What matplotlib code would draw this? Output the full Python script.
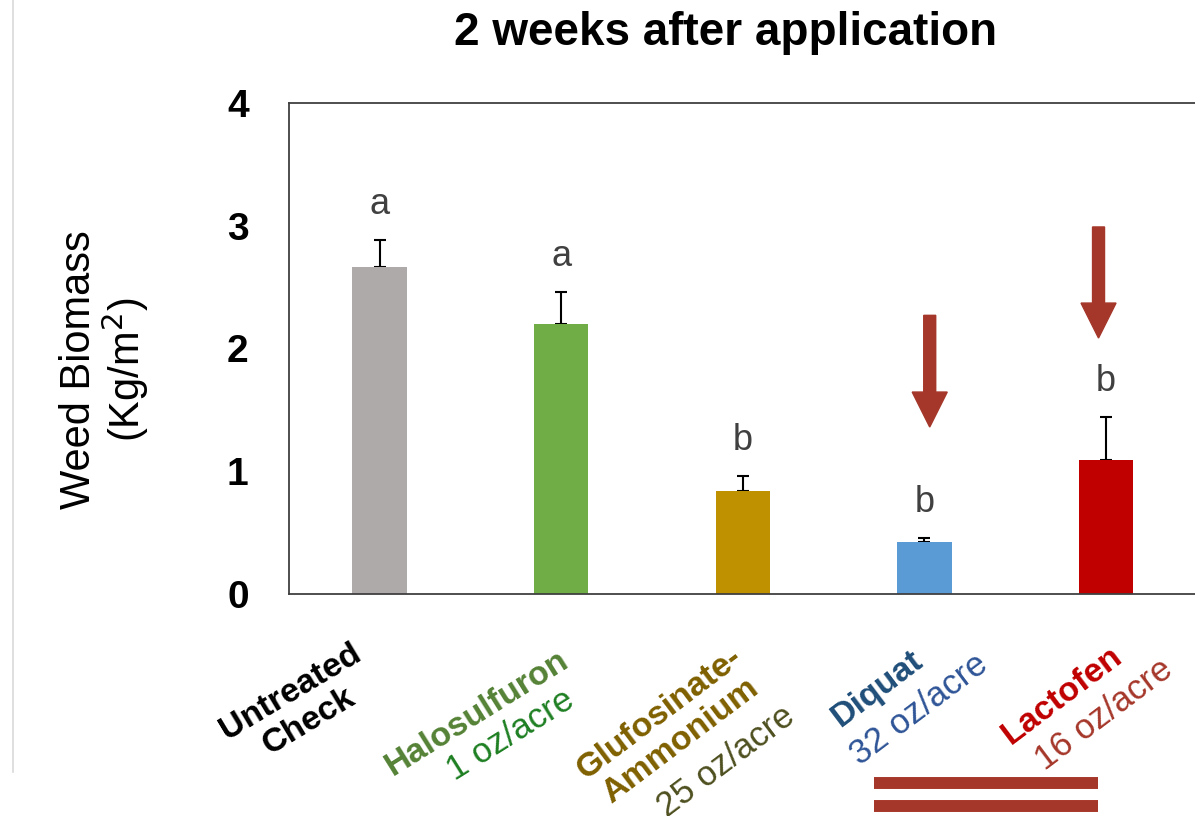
import matplotlib
matplotlib.use("Agg")
import matplotlib.pyplot as plt
from matplotlib.lines import Line2D

plt.rcParams['font.family'] = ['Liberation Sans', 'DejaVu Sans']

# data
names = ['Untreated\nCheck', 'Halosulfuron', 'Glufosinate-\nAmmonium', 'Diquat', 'Lactofen']
doses = ['', '1 oz/acre', '25 oz/acre', '32 oz/acre', '16 oz/acre']
biomass = [2.66, 2.20, 0.84, 0.42, 1.09]
sem = [0.22, 0.26, 0.12, 0.04, 0.35]
letters = ['a', 'a', 'b', 'b', 'b']
yticks = [0, 1, 2, 3, 4]

bar_colors = ['#AEAAAA', '#70AD47', '#BF9000', '#5B9BD5', '#C00000']
name_colors = ['#000000', '#548235', '#7F6000', '#1F4E79', '#C00000']
dose_colors = ['#000000', '#1E7E22', '#4F5020', '#2F5597', '#A5372A']
label_angles = [31, 32, 37, 37, 37]
# label centre offsets from (bar centre, x axis) in pixels
name_offsets = [(-80, 113), (-84, 119), (-73, 133), (-47, 95), (-44, 102)]
dose_offsets = [None, (-51, 141), (-17, 168), (-5, 116), (-2, 121)]

# arrows pointing at the two highlighted treatments (x, top, tip)
arrows = [(3.03, 2.27, 1.36), (3.96, 2.99, 2.085)]
accent = '#A5372A'

fig = plt.figure(figsize=(11.95, 8.16), dpi=100)
ax = fig.add_axes([0.2418, 0.2721, 0.7595, 0.6017])

x = range(len(biomass))
ax.bar(x, biomass, width=0.30, color=bar_colors, zorder=2)
ax.errorbar(x, biomass, yerr=[[0] * len(sem), sem], fmt='none',
            ecolor='black', elinewidth=1.5, capsize=4, capthick=1.5, zorder=1)

for i, (v, e, lt) in enumerate(zip(biomass, sem, letters)):
    ax.annotate(lt, xy=(i, v + e), xytext=(0, 18), textcoords='offset pixels',
                ha='center', va='bottom', fontsize=26, color='#404040')

for xa, top, tip in arrows:
    ax.arrow(xa, top, 0, tip - top, width=0.066, head_width=0.193,
             head_length=0.285, length_includes_head=True,
             color=accent, zorder=4)

ax.set_xlim(-0.5, 4.5)
ax.set_ylim(0, 4)
ax.set_yticks(yticks)
ax.set_yticklabels([str(t) for t in yticks], fontsize=28, fontweight='bold')
ax.tick_params(axis='y', length=0, pad=29)
ax.set_xticks([])
for s in ['left', 'top', 'bottom']:
    ax.spines[s].set_color('#404040')
    ax.spines[s].set_linewidth(1.3)
ax.spines['right'].set_visible(False)

# category labels, drawn in two colours per label
for i in x:
    dx, dy = name_offsets[i]
    ax.annotate(names[i], xy=(i, 0), xycoords=('data', 'axes fraction'),
                xytext=(dx, -dy), textcoords='offset pixels',
                ha='center', va='center', rotation=label_angles[i],
                rotation_mode='anchor', fontsize=24.5, fontweight='bold',
                color=name_colors[i], linespacing=1.15, annotation_clip=False)
    if doses[i]:
        dx, dy = dose_offsets[i]
        ax.annotate(doses[i], xy=(i, 0), xycoords=('data', 'axes fraction'),
                    xytext=(dx, -dy), textcoords='offset pixels',
                    ha='center', va='center', rotation=label_angles[i],
                    rotation_mode='anchor', fontsize=25,
                    color=dose_colors[i], annotation_clip=False)

fig.text(0.088, 0.5466, 'Weed Biomass\n(Kg/m$^2$)', rotation=90,
         ha='center', va='center', fontsize=30, linespacing=1.0,
         multialignment='center')
fig.text(0.6075, 1 - 45 / 816, '2 weeks after application', ha='center',
         va='baseline', fontsize=33, fontweight='bold')

# slide decorations
fig.add_artist(Line2D([0.0105, 0.0105], [1.0, 1 - 772 / 816],
                      color='#D9D9D9', lw=1.2))
for yy in [783, 806]:
    fig.add_artist(Line2D([874 / 1195, 1098 / 1195], [1 - yy / 816] * 2,
                          color=accent, lw=8.6, solid_capstyle='butt'))

fig.savefig('out.png', dpi=100)
